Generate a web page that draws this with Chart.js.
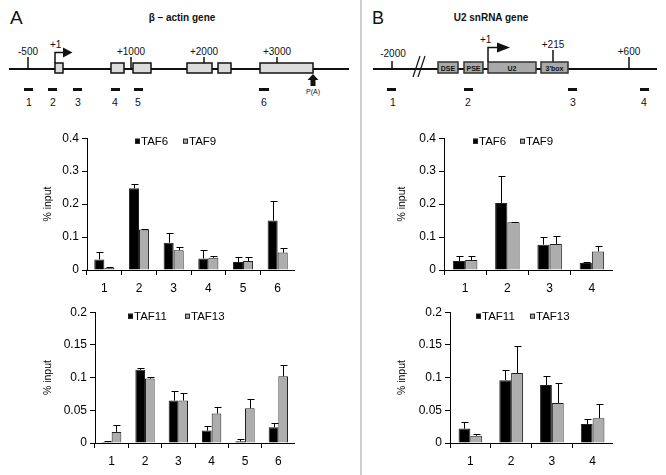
<!DOCTYPE html>
<html>
<head>
<meta charset="utf-8">
<script src="https://cdn.jsdelivr.net/npm/chart.js@4"></script>
<style>
  body { margin: 0; width: 666px; height: 475px; position: relative; overflow: hidden; background: #fff;
         font-family: "Liberation Sans", Arial, sans-serif; }
  canvas, svg, .divider { position: absolute; }
  svg { left: 0; top: 0; }
  .divider { left: 360px; top: 0; width: 2px; height: 475px; background: #cfcfcf; }
  svg text { font-family: "Liberation Sans", Arial, sans-serif; fill: #111; }
</style>
</head>
<body>
<svg width="666" height="120">
  <!-- panel A: beta-actin gene map -->
  <text x="10" y="24" font-size="19">A</text>
  <text x="182" y="21" font-size="10" font-weight="bold" text-anchor="middle">β – actin gene</text>
  <line x1="9" y1="69" x2="349" y2="69" stroke="#111" stroke-width="2"/>
  <line x1="28" y1="57" x2="28" y2="69" stroke="#111" stroke-width="1.5"/>
  <text x="28" y="55" font-size="10" text-anchor="middle">-500</text>
  <line x1="131" y1="57" x2="131" y2="69" stroke="#111" stroke-width="1.5"/>
  <text x="131" y="55" font-size="10" text-anchor="middle">+1000</text>
  <line x1="204" y1="57" x2="204" y2="63" stroke="#111" stroke-width="1.5"/>
  <text x="204" y="55" font-size="10" text-anchor="middle">+2000</text>
  <line x1="277" y1="57" x2="277" y2="63" stroke="#111" stroke-width="1.5"/>
  <text x="277" y="55" font-size="10" text-anchor="middle">+3000</text>
  <g fill="#dcdcdc" stroke="#111" stroke-width="1.5">
    <rect x="55" y="63" width="8" height="10"/>
    <rect x="111" y="63" width="13" height="10"/>
    <rect x="133" y="63" width="18" height="10"/>
    <rect x="187" y="63" width="25" height="10"/>
    <rect x="218" y="63" width="13" height="10"/>
    <rect x="260" y="63" width="53" height="10"/>
  </g>
  <path d="M55 63 V52.5 H64" fill="none" stroke="#111" stroke-width="1.5"/>
  <polygon points="63,47.5 72.5,52.5 63,57.5" fill="#111"/>
  <text x="50" y="48" font-size="10">+1</text>
  <polygon points="313,74 307.5,80 310.5,80 310.5,86 315.5,86 315.5,80 318.5,80" fill="#111"/>
  <text x="313" y="94" font-size="7" text-anchor="middle">P(A)</text>
  <g fill="#111">
    <rect x="24" y="88" width="9" height="3"/>
    <rect x="48" y="88" width="9" height="3"/>
    <rect x="73" y="88" width="9" height="3"/>
    <rect x="111" y="88" width="9" height="3"/>
    <rect x="134" y="88" width="9" height="3"/>
    <rect x="259" y="88" width="10" height="3"/>
  </g>
  <g font-size="10.5" text-anchor="middle">
    <text x="29" y="106">1</text><text x="53" y="106">2</text><text x="78" y="106">3</text>
    <text x="115" y="106">4</text><text x="138" y="106">5</text><text x="264" y="106">6</text>
  </g>

  <!-- panel B: U2 snRNA gene map -->
  <text x="372" y="24" font-size="18">B</text>
  <text x="491" y="21" font-size="10" font-weight="bold" text-anchor="middle">U2 snRNA gene</text>
  <line x1="373" y1="69" x2="657" y2="69" stroke="#111" stroke-width="2"/>
  <line x1="392" y1="61" x2="392" y2="69" stroke="#111" stroke-width="1.5"/>
  <text x="393" y="57" font-size="10" text-anchor="middle">-2000</text>
  <line x1="413" y1="77" x2="420" y2="56" stroke="#111" stroke-width="1.2"/>
  <line x1="418" y1="77" x2="425" y2="56" stroke="#111" stroke-width="1.2"/>
  <line x1="629" y1="57" x2="629" y2="69" stroke="#111" stroke-width="1.5"/>
  <text x="629" y="55" font-size="10" text-anchor="middle">+600</text>
  <line x1="553" y1="50" x2="553" y2="62" stroke="#111" stroke-width="1.5"/>
  <text x="553" y="48" font-size="10" text-anchor="middle">+215</text>
  <g fill="#a9a9a9" stroke="#333" stroke-width="1.5">
    <rect x="438" y="62" width="20" height="11"/>
    <rect x="464" y="62" width="19" height="11"/>
    <rect x="488" y="62" width="48" height="11"/>
    <rect x="541" y="62" width="27" height="11"/>
  </g>
  <g font-size="7" font-weight="bold" text-anchor="middle">
    <text x="448" y="70.5">DSE</text><text x="473.5" y="70.5">PSE</text>
    <text x="512" y="70.5">U2</text><text x="554.5" y="70.5">3'box</text>
  </g>
  <path d="M488 62 V47.5 H498" fill="none" stroke="#111" stroke-width="1.5"/>
  <polygon points="497,42.5 510,47.5 497,52.5" fill="#111"/>
  <text x="480" y="43" font-size="10">+1</text>
  <g fill="#111">
    <rect x="387" y="88" width="9" height="3"/>
    <rect x="464" y="88" width="9" height="3"/>
    <rect x="568" y="88" width="9" height="3"/>
    <rect x="640" y="88" width="9" height="3"/>
  </g>
  <g font-size="10.5" text-anchor="middle">
    <text x="393" y="106">1</text><text x="468" y="106">2</text>
    <text x="573" y="106">3</text><text x="644" y="106">4</text>
  </g>
</svg>
<div class="divider"></div>

<canvas id="actinTop" width="257" height="172" style="left:38px;top:128px"></canvas>
<canvas id="u2Top" width="221" height="172" style="left:392px;top:128px"></canvas>
<canvas id="actinBottom" width="257" height="171" style="left:38px;top:302px"></canvas>
<canvas id="u2Bottom" width="221" height="171" style="left:392px;top:302px"></canvas>

<script>
const ACTIN_SITES = ["1", "2", "3", "4", "5", "6"];
const U2_SITES = ["1", "2", "3", "4"];

const ACTIN_TAF6 = [0.032, 0.248, 0.083, 0.035, 0.024, 0.150];
const ACTIN_TAF6_ERR = [0.022, 0.012, 0.028, 0.026, 0.016, 0.060];
const ACTIN_TAF9 = [0.006, 0.123, 0.060, 0.037, 0.027, 0.053];
const ACTIN_TAF9_ERR = [0.004, 0.002, 0.011, 0.005, 0.013, 0.014];

const U2_TAF6 = [0.027, 0.203, 0.077, 0.021];
const U2_TAF6_ERR = [0.015, 0.083, 0.023, 0.003];
const U2_TAF9 = [0.030, 0.145, 0.079, 0.056];
const U2_TAF9_ERR = [0.013, 0.002, 0.023, 0.016];

const ACTIN_TAF11 = [0.0015, 0.112, 0.065, 0.019, 0.0025, 0.024];
const ACTIN_TAF11_ERR = [0.001, 0.002, 0.015, 0.007, 0.003, 0.007];
const ACTIN_TAF13 = [0.017, 0.0985, 0.065, 0.045, 0.053, 0.102];
const ACTIN_TAF13_ERR = [0.010, 0.003, 0.012, 0.010, 0.014, 0.017];

const U2_TAF11 = [0.022, 0.096, 0.0885, 0.029];
const U2_TAF11_ERR = [0.010, 0.015, 0.0135, 0.007];
const U2_TAF13 = [0.011, 0.107, 0.061, 0.038];
const U2_TAF13_ERR = [0.0035, 0.041, 0.030, 0.021];

const TICKS_TOP = [0, 0.1, 0.2, 0.3, 0.4];
const TICKS_BOTTOM = [0, 0.05, 0.1, 0.15, 0.2];

const FONT = "'Liberation Sans', Arial, sans-serif";
const BLACK = "#000";
const GREY = "#adadad";

Chart.defaults.font.family = FONT;
Chart.defaults.color = "#000";

// upward-only error bars, drawn from each bar's top
const errorBars = {
  id: "errorBars",
  afterDatasetsDraw(chart) {
    const { ctx } = chart;
    const y = chart.scales.y;
    chart.data.datasets.forEach((ds, i) => {
      chart.getDatasetMeta(i).data.forEach((bar, j) => {
        const x = Math.round(bar.x) + 0.5;
        const top = Math.round(y.getPixelForValue(ds.data[j] + ds.errors[j])) + 0.5;
        ctx.save();
        ctx.strokeStyle = "#000";
        ctx.lineWidth = 1;
        ctx.beginPath();
        ctx.moveTo(x, bar.y);
        ctx.lineTo(x, top);
        ctx.moveTo(x - 3, top);
        ctx.lineTo(x + 4, top);
        ctx.stroke();
        ctx.restore();
      });
    });
  },
};

// small square-swatch legend sitting inside the plot area
const boxLegend = {
  id: "boxLegend",
  afterDraw(chart, _args, opts) {
    const { ctx, chartArea } = chart;
    const cy = chartArea.top + opts.dy;
    ctx.save();
    ctx.font = `11.5px ${FONT}`;
    ctx.textBaseline = "middle";
    chart.data.datasets.forEach((ds, i) => {
      const x = chartArea.left + opts.offsets[i];
      ctx.fillStyle = ds.backgroundColor;
      ctx.fillRect(x, cy - 2.5, 5, 5);
      ctx.strokeStyle = "#222";
      ctx.strokeRect(x + 0.5, cy - 2, 4, 4);
      ctx.fillStyle = "#000";
      ctx.fillText(ds.label, x + 6, cy + 0.5);
    });
    ctx.restore();
  },
};

function bars(id, sites, series, ticks, yWidth, legend) {
  new Chart(document.getElementById(id), {
    type: "bar",
    data: {
      labels: sites,
      datasets: series.map(([label, data, errors, color]) => ({
        label, data, errors, backgroundColor: color,
        borderColor: "#222", borderWidth: 1,
        categoryPercentage: 0.58, barPercentage: 1,
      })),
    },
    options: {
      responsive: false,
      animation: false,
      layout: { padding: 0 },
      plugins: { legend: { display: false }, tooltip: { enabled: false }, boxLegend: legend },
      scales: {
        x: {
          grid: { offset: true, drawOnChartArea: false, tickLength: 5, color: "#000" },
          border: { color: "#000" },
          ticks: { font: { size: 12 }, padding: 6 },
          afterFit: (s) => { s.height = 30; },
        },
        y: {
          min: 0, max: ticks[ticks.length - 1],
          afterBuildTicks: (s) => { s.ticks = ticks.map((value) => ({ value })); },
          grid: { drawOnChartArea: false, tickLength: 5, color: "#000" },
          border: { color: "#000" },
          ticks: { font: { size: 12 }, padding: 3, callback: (v) => String(v) },
          title: { display: true, text: "% input", font: { size: 10.5 } },
          afterFit: (s) => { s.width = yWidth; },
        },
      },
    },
    plugins: [errorBars, boxLegend],
  });
}

bars("actinTop", ACTIN_SITES, [
  ["TAF6", ACTIN_TAF6, ACTIN_TAF6_ERR, BLACK],
  ["TAF9", ACTIN_TAF9, ACTIN_TAF9_ERR, GREY],
], TICKS_TOP, 49, { offsets: [48, 96], dy: 3 });

bars("u2Top", U2_SITES, [
  ["TAF6", U2_TAF6, U2_TAF6_ERR, BLACK],
  ["TAF9", U2_TAF9, U2_TAF9_ERR, GREY],
], TICKS_TOP, 52, { offsets: [29, 76], dy: 3 });

bars("actinBottom", ACTIN_SITES, [
  ["TAF11", ACTIN_TAF11, ACTIN_TAF11_ERR, BLACK],
  ["TAF13", ACTIN_TAF13, ACTIN_TAF13_ERR, GREY],
], TICKS_BOTTOM, 57, { offsets: [33, 90], dy: 4 });

bars("u2Bottom", U2_SITES, [
  ["TAF11", U2_TAF11, U2_TAF11_ERR, BLACK],
  ["TAF13", U2_TAF13, U2_TAF13_ERR, GREY],
], TICKS_BOTTOM, 58, { offsets: [26, 80], dy: 4 });
</script>
</body>
</html>
